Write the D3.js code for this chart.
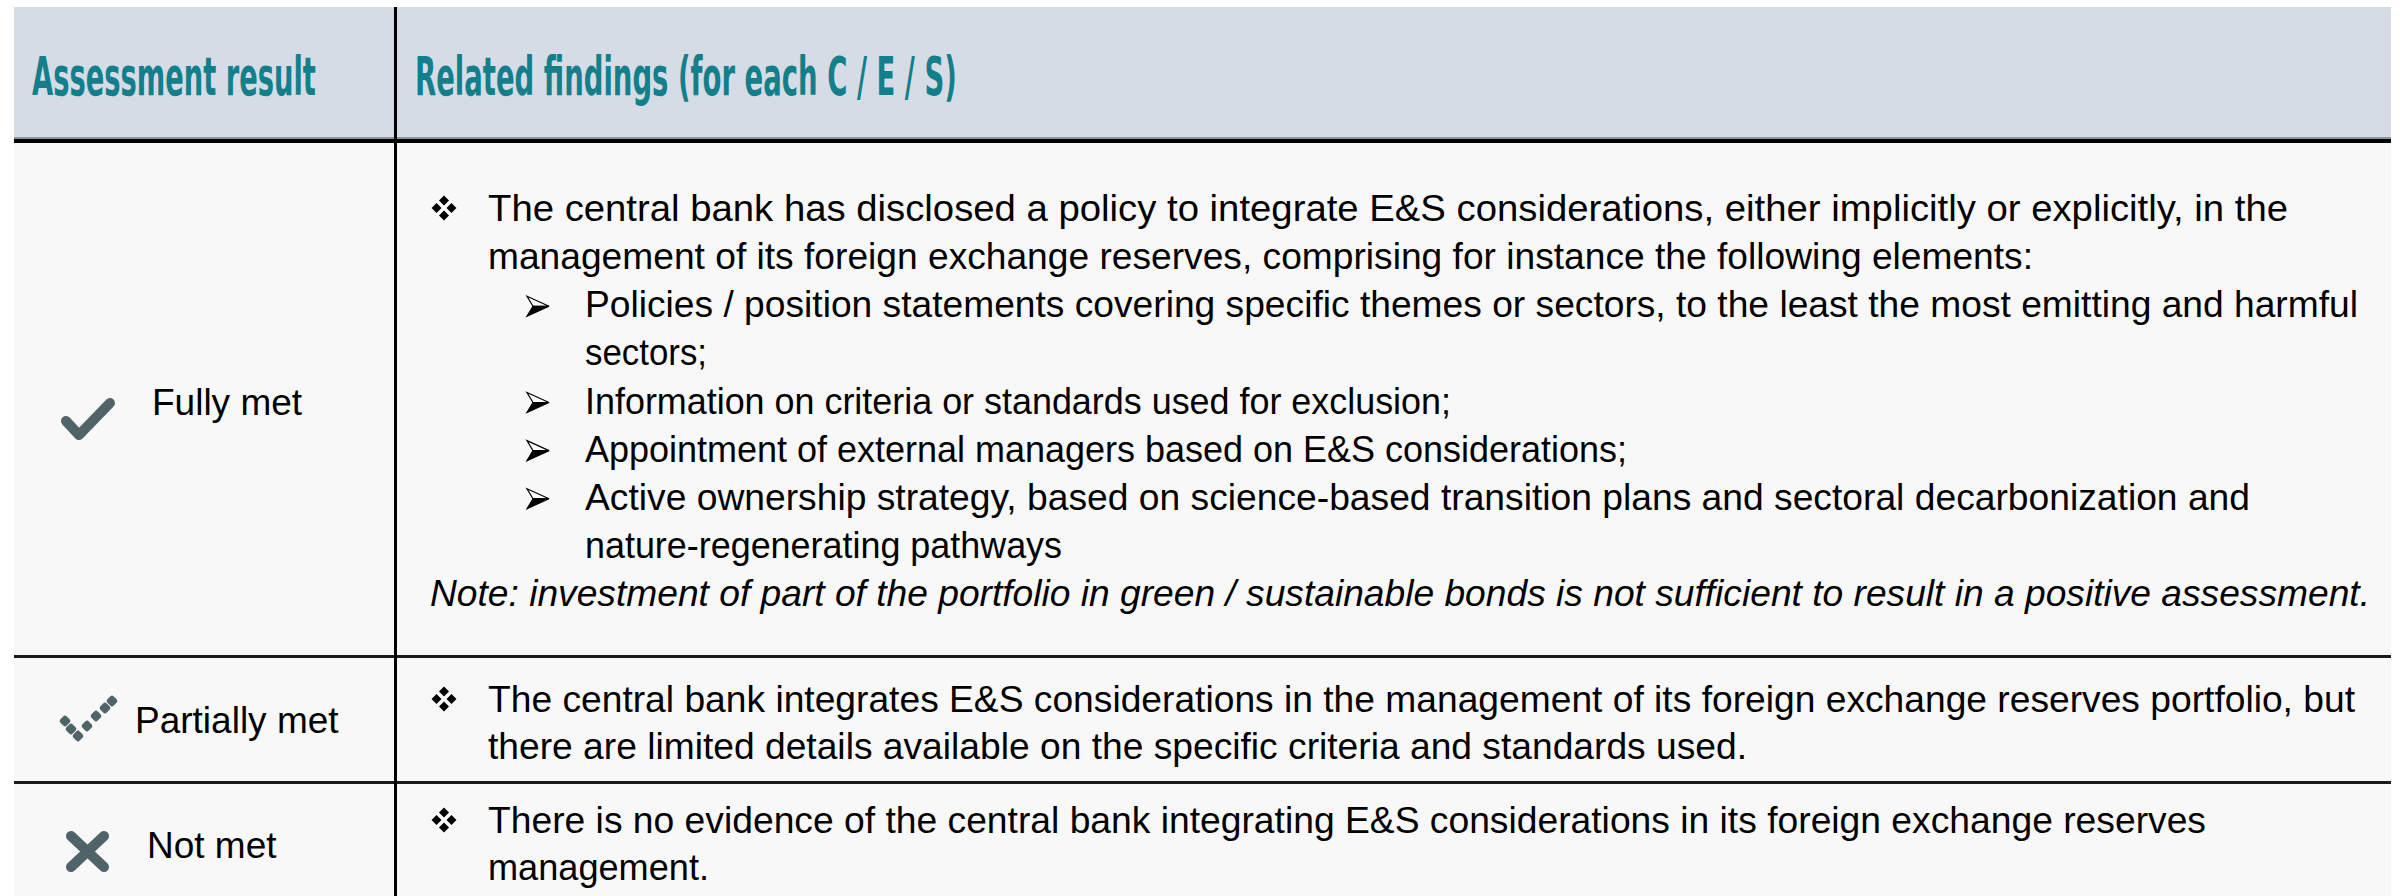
<!DOCTYPE html>
<html><head><meta charset="utf-8">
<script src="https://cdn.jsdelivr.net/npm/d3@7"></script>
<style>html,body{margin:0;padding:0;background:#fff;}svg{display:block;}</style>
</head><body>
<svg id="chart" width="2400" height="896"></svg>
<script>
// ---- data ----
const headers = ["Assessment result", "Related findings (for each C / E / S)"];
const results = ["Fully met", "Partially met", "Not met"];
const findingsFully = [
  "The central bank has disclosed a policy to integrate E&S considerations, either implicitly or explicitly, in the",
  "management of its foreign exchange reserves, comprising for instance the following elements:",
  "Policies / position statements covering specific themes or sectors, to the least the most emitting and harmful",
  "sectors;",
  "Information on criteria or standards used for exclusion;",
  "Appointment of external managers based on E&S considerations;",
  "Active ownership strategy, based on science-based transition plans and sectoral decarbonization and",
  "nature-regenerating pathways",
  "Note: investment of part of the portfolio in green / sustainable bonds is not sufficient to result in a positive assessment."
];
const levelsFully = [1, 1, 2, 2, 2, 2, 2, 2, 0];
const bulletsFully = [true, false, true, false, true, true, true, false, false];
const findingsPartial = [
  "The central bank integrates E&S considerations in the management of its foreign exchange reserves portfolio, but",
  "there are limited details available on the specific criteria and standards used."
];
const findingsNot = [
  "There is no evidence of the central bank integrating E&S considerations in its foreign exchange reserves",
  "management."
];

// ---- layout ----
const svg = d3.select("#chart");
const X0 = 14, X1 = 2391, DIV = 395, HTOP = 7, HBOT = 140;
const teal = "#127f8a", iconCol = "#4e6469";
const font = "'Liberation Sans', Arial, sans-serif";
const bodySize = 37;
// right edge of each text line as laid out in the reference (layout only)
const endsFully = [2288, 2033, 2358, 707, 1451, 1627, 2250, 1062, 2370];
const endsPartial = [2355, 1747];
const endsNot = [2206, 709];

svg.append("rect").attr("x", X0).attr("y", HTOP).attr("width", X1 - X0).attr("height", HBOT - HTOP).attr("fill", "#d5dce6");
svg.append("rect").attr("x", X0).attr("y", HBOT).attr("width", X1 - X0).attr("height", 896 - HBOT).attr("fill", "#f8f8f8");

const hdr = [{t: headers[0], x: 32, w: 284}, {t: headers[1], x: 415, w: 542}];
svg.selectAll("text.hdr").data(hdr).join("text").attr("class", "hdr")
  .attr("x", 0).attr("y", 0)
  .attr("font-family", "'Liberation Sans Narrow', 'DejaVu Sans Condensed', sans-serif")
  .attr("font-weight", "bold").attr("font-size", 54).attr("fill", teal)
  .text(d => d.t)
  .each(function(d) {
    const w = this.getComputedTextLength();
    d3.select(this).attr("transform", `translate(${d.x},95) scale(${d.w / w},1)`);
  });

svg.append("rect").attr("x", X0).attr("y", 137).attr("width", X1 - X0).attr("height", 2).attr("fill", "#8d949c");
svg.append("rect").attr("x", X0).attr("y", 139).attr("width", X1 - X0).attr("height", 4).attr("fill", "#000");
[657, 783].forEach(y => {
  svg.append("rect").attr("x", X0).attr("y", y - 2).attr("width", X1 - X0).attr("height", 3).attr("fill", "#1a1a1a");
});
svg.append("rect").attr("x", DIV - 1).attr("y", HTOP).attr("width", 3).attr("height", 896 - HTOP).attr("fill", "#000");

const labelPos = [{x: 152, y: 415}, {x: 135, y: 733}, {x: 147, y: 858}];
svg.selectAll("text.res").data(results).join("text").attr("class", "res")
  .attr("x", (d, i) => labelPos[i].x).attr("y", (d, i) => labelPos[i].y)
  .attr("font-family", font).attr("font-size", 37).attr("fill", "#000").text(d => d);

const ig = svg.append("g");
ig.append("path").attr("d", "M66,421 L79,435 L110,403").attr("fill", "none")
  .attr("stroke", iconCol).attr("stroke-width", 10).attr("stroke-linecap", "round").attr("stroke-linejoin", "round");
const dots = [[65, 721], [71, 729], [78, 736], [87, 726], [96, 716], [105, 708], [112, 701]];
ig.selectAll("rect.dot").data(dots).join("rect").attr("class", "dot")
  .attr("x", -4.5).attr("y", -4.5).attr("width", 9).attr("height", 9).attr("rx", 2.5)
  .attr("transform", d => `translate(${d[0]},${d[1]}) rotate(45)`).attr("fill", iconCol);
ig.append("path").attr("d", "M71,836 L104,867 M104,836 L71,867").attr("fill", "none")
  .attr("stroke", iconCol).attr("stroke-width", 10).attr("stroke-linecap", "round");

function diamondBullet(g, cx, cy) {
  const o = 7.5, s = 5;
  [[0, -o], [o, 0], [0, o], [-o, 0]].forEach(p => {
    g.append("path").attr("d", `M${cx + p[0]},${cy + p[1] - s} L${cx + p[0] + s},${cy + p[1]} L${cx + p[0]},${cy + p[1] + s} L${cx + p[0] - s},${cy + p[1]} Z`).attr("fill", "#000");
  });
}
function arrowBullet(g, x, cy) {
  g.append("path").attr("d", `M${x},${cy - 10} L${x + 22},${cy} L${x + 6},${cy} Z`).attr("fill", "#fff").attr("stroke", "#000").attr("stroke-width", 1.2);
  g.append("path").attr("d", `M${x},${cy + 10} L${x + 22},${cy} L${x + 6},${cy} Z`).attr("fill", "#000").attr("stroke", "#000").attr("stroke-width", 1.2);
}

const indentX = {0: 430, 1: 488, 2: 585};
const tg = svg.append("g");

const y1 = d3.scaleLinear().domain([0, 8]).range([221, 606]);
tg.selectAll("text.f1").data(findingsFully).join("text").attr("class", "f1")
  .attr("x", (d, i) => indentX[levelsFully[i]]).attr("y", (d, i) => y1(i))
  .attr("textLength", (d, i) => endsFully[i] - indentX[levelsFully[i]])
  .attr("lengthAdjust", "spacingAndGlyphs")
  .attr("font-family", font).attr("font-size", bodySize).attr("fill", "#000")
  .attr("font-style", (d, i) => levelsFully[i] === 0 ? "italic" : "normal")
  .text(d => d);
findingsFully.forEach((d, i) => {
  if (!bulletsFully[i]) return;
  if (levelsFully[i] === 1) diamondBullet(tg, 444, y1(i) - 13);
  else arrowBullet(tg, 527, y1(i) - 11);
});

[[findingsPartial, endsPartial, 712], [findingsNot, endsNot, 833]].forEach(([lines, ends, b0]) => {
  const ys = d3.scaleLinear().domain([0, 1]).range([b0, b0 + 46.5]);
  lines.forEach((t, i) => {
    tg.append("text").attr("x", 488).attr("y", ys(i))
      .attr("textLength", ends[i] - 488).attr("lengthAdjust", "spacingAndGlyphs")
      .attr("font-family", font).attr("font-size", bodySize).attr("fill", "#000").text(t);
  });
  diamondBullet(tg, 444, ys(0) - 13);
});
</script>
</body></html>
